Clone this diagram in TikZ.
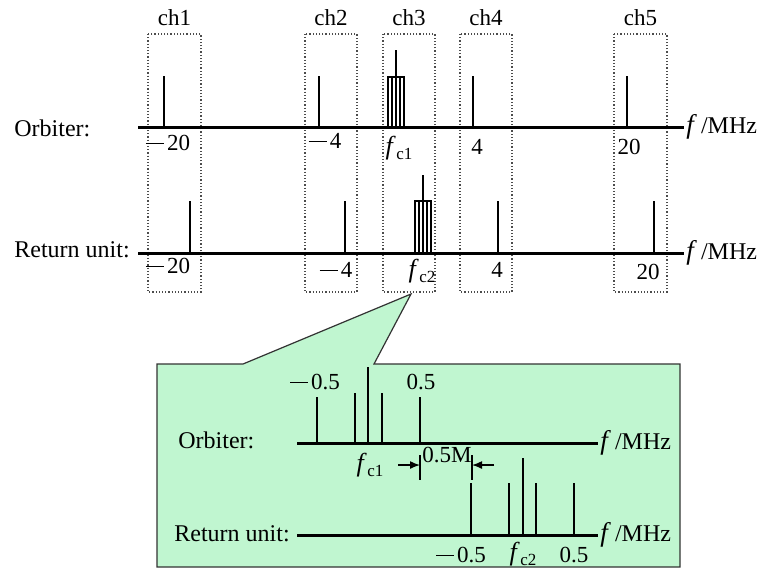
\documentclass[tikz,border=0pt]{standalone}
\usepackage{fontspec}
\setmainfont{Liberation Serif}
\usepackage{tikz}
\usetikzlibrary{arrows.meta,positioning,calc}
\definecolor{calloutgreen}{RGB}{192,246,208}
\tikzset{
  axis/.style={line width=1.5pt},
  spike/.style={line width=1.2pt},
  chbox/.style={draw=black!70, densely dotted, line width=0.6pt},
  lbl/.style={font=\fontsize{12}{14}\selectfont, inner sep=1pt},
  chlbl/.style={font=\fontsize{11.5}{13}\selectfont, inner sep=1pt},
  tick/.style={font=\fontsize{11.5}{13}\selectfont, inner sep=1pt},
  dim/.style={line width=0.7pt, -{Latex[length=5pt,width=4pt]}}
}
\newcommand{\fc}[1]{{\fontsize{13}{14}\selectfont\textit{f}}\kern0.3pt\raisebox{-2.5pt}{\fontsize{8.5}{9}\selectfont c#1}}
\newcommand{\fMHz}{{\fontsize{13.5}{14}\selectfont\textit{f}}\,/MHz}
\newcommand{\mn}{\raisebox{0.3em}{\rule{0.8em}{0.045em}}\kern0.12em}

\begin{document}
\begin{tikzpicture}[x=0.5pt,y=-0.5pt]
  \useasboundingbox (0,0) rectangle (763,569);

  % channel windows
  \foreach \xa/\xb/\name in {148/201/ch1,305/357/ch2,383/435/ch3,460/512/ch4,614/667/ch5}{
    \draw[chbox] (\xa,34) rectangle (\xb,292);
    \node[chlbl] (\name) at ({(\xa+\xb)/2},18) {\name};
  }

  % orbiter spectrum
  \node[lbl,anchor=west] (orb) at (12,128) {Orbiter:};
  \coordinate (oa) at (138,127);
  \coordinate (ob) at (684,127);
  \draw[axis] (oa) -- (ob);
  \node[lbl,anchor=west] (omhz) at (ob) {\fMHz};
  \foreach \x in {164,319,473,627}
    \draw[spike] (\x,127) -- (\x,76);
  \draw[line width=1pt] (388,127) rectangle (404,77);
  \foreach \x in {392,400}
    \draw[line width=0.6pt] (\x,127) -- (\x,77);
  \draw[spike] (396,127) -- (396,50);
  \node[tick] (o1) at (168,143) {\mn20};
  \node[tick] (o2) at (325,141) {\mn4};
  \node[tick] (o3) at (399,148) {\fc{1}};
  \node[tick] (o4) at (477,147) {4};
  \node[tick] (o5) at (629,147) {20};

  % return unit spectrum
  \node[lbl,anchor=west] (ret) at (12,250) {Return unit:};
  \coordinate (ra) at (138,253);
  \coordinate (rb) at (684,253);
  \draw[axis] (ra) -- (rb);
  \node[lbl,anchor=west] (rmhz) at (rb) {\fMHz};
  \foreach \x in {190,345,498,654}
    \draw[spike] (\x,253) -- (\x,201);
  \draw[line width=1pt] (415,253) rectangle (431,201);
  \foreach \x in {419,427}
    \draw[line width=0.6pt] (\x,253) -- (\x,201);
  \draw[spike] (423,253) -- (423,175);
  \node[tick] (r1) at (168,266) {\mn20};
  \node[tick] (r2) at (336,270) {\mn4};
  \node[tick] (r3) at (422,271) {\fc{2}};
  \node[tick] (r4) at (497,270) {4};
  \node[tick] (r5) at (648,272) {20};

  % zoomed callout
  \draw[fill=calloutgreen,draw=black!80,line width=0.6pt]
    (157,364) -- (243,364) -- (411,294) -- (374,364) -- (680,364)
    -- (680,567) -- (157,567) -- cycle;

  \node[lbl,anchor=west] (zorb) at (176,440) {Orbiter:};
  \coordinate (za) at (297,443);
  \coordinate (zb) at (598,443);
  \draw[axis] (za) -- (zb);
  \node[lbl,anchor=west] (zomhz) at (zb) {\fMHz};
  \foreach \x/\t in {317/397,355/393,368/367,382/393,420/397}
    \draw[spike] (\x,443) -- (\x,\t);
  \node[tick] (zo1) at (315,382) {\mn0.5};
  \node[tick] (zo2) at (421,382) {0.5};
  \node[tick] (zo3) at (370,465) {\fc{1}};

  % spacing mark
  \coordinate (d1) at (420,465);
  \coordinate (d2) at (472,465);
  \draw[line width=0.6pt] (420,455) -- (420,480);
  \draw[line width=0.6pt] (472,455) -- (472,480);
  \draw[dim] ($(d1)+(-22,0)$) -- (d1);
  \draw[dim] ($(d2)+(22,0)$) -- (d2);
  \node[tick] (dm) at (447,455) {0.5M};

  \node[lbl,anchor=west] (zret) at (172,534) {Return unit:};
  \coordinate (zc) at (297,535);
  \coordinate (zd) at (598,535);
  \draw[axis] (zc) -- (zd);
  \node[lbl,anchor=west] (zrmhz) at (zd) {\fMHz};
  \foreach \x/\t in {471/483,509/483,523/458,536/483,574/483}
    \draw[spike] (\x,535) -- (\x,\t);
  \node[tick] (zr1) at (461,555) {\mn0.5};
  \node[tick] (zr2) at (523,554) {\fc{2}};
  \node[tick] (zr3) at (574,555) {0.5};
\end{tikzpicture}
\end{document}
